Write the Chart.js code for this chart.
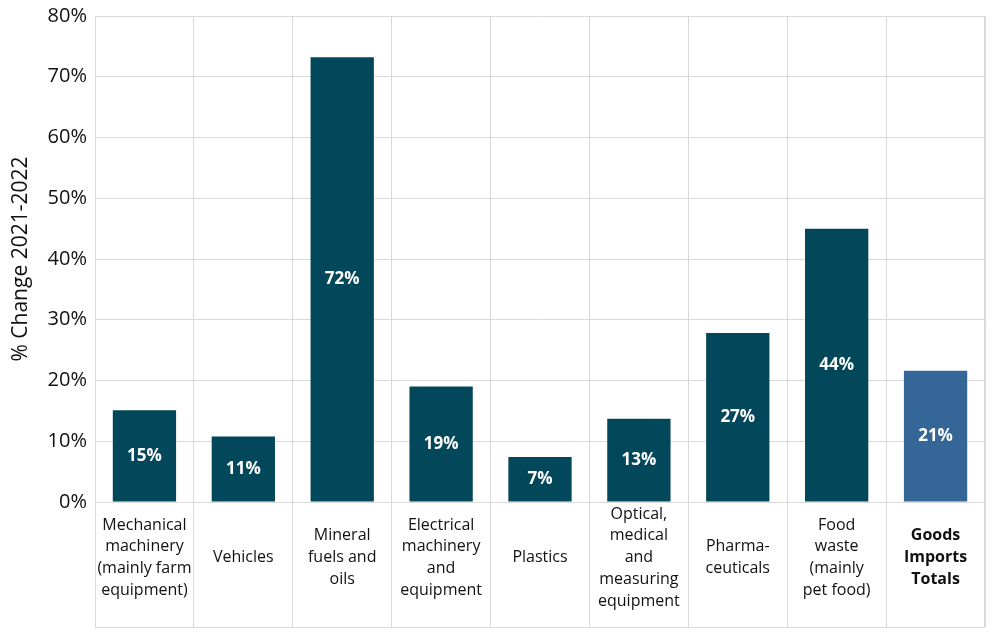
<!DOCTYPE html>
<html>
<head>
<meta charset="utf-8">
<script src="https://cdn.jsdelivr.net/npm/chart.js@4.4.1/dist/chart.umd.min.js"></script>
<style>
  html, body { margin: 0; padding: 0; background: #fff; }
  #wrap { width: 1000px; height: 636px; }
</style>
</head>
<body>
<div id="wrap"><canvas id="chart"></canvas></div>
<script>
// categories (multi-line labels as in the picture)
const categories = [
    ["Mechanical", "machinery", "(mainly farm", "equipment)"],
    ["Vehicles"],
    ["Mineral", "fuels and", "oils"],
    ["Electrical", "machinery", "and", "equipment"],
    ["Plastics"],
    ["Optical,", "medical", "and", "measuring", "equipment"],
    ["Pharma-", "ceuticals"],
    ["Food", "waste", "(mainly", "pet food)"],
    ["Goods", "Imports", "Totals"]
]

// % change 2021-2022
const changeValues = [15.1, 10.8, 73.2, 19.0, 7.4, 13.7, 27.8, 45.0, 21.6]
// labels printed on the bars
const valueLabels = ["15%", "11%", "72%", "19%", "7%", "13%", "27%", "44%", "21%"]
const yTicks = [0, 10, 20, 30, 40, 50, 60, 70, 80]

const barColors = changeValues.map((v, i) => i == categories.length - 1 ? '#356698' : '#03475a')

const fontFamily = "'Open Sans', 'Noto Sans', sans-serif"
const gridColor = '#d9d9d9'
const labelDepth = 125   // how far the category cells reach below the axis

// white value labels in the middle of each bar
const barLabelPlugin = {
    id: 'barLabels',
    afterDatasetsDraw(chart) {
        let ctx = chart.ctx
        let meta = chart.getDatasetMeta(0)
        ctx.save()
        ctx.fillStyle = '#ffffff'
        ctx.font = "bold 17px " + fontFamily
        ctx.textAlign = 'center'
        ctx.textBaseline = 'middle'
        meta.data.forEach((bar, i) => {
            let mid = (bar.y + bar.base) / 2
            ctx.fillText(valueLabels[i], bar.x, mid)
        })
        ctx.restore()
    }
}

// closes the category table: bottom line and right edge
const tableFramePlugin = {
    id: 'tableFrame',
    afterDraw(chart) {
        let ctx = chart.ctx
        let area = chart.chartArea
        let bottom = area.bottom + labelDepth
        ctx.save()
        ctx.strokeStyle = gridColor
        ctx.lineWidth = 1
        ctx.beginPath()
        ctx.moveTo(area.left, bottom + 0.5)
        ctx.lineTo(area.right, bottom + 0.5)
        ctx.moveTo(area.right - 0.5, area.top)
        ctx.lineTo(area.right - 0.5, bottom)
        ctx.stroke()
        ctx.restore()
    }
}

const ctx = document.getElementById('chart')

const chart = new Chart(ctx, {
    type: 'bar',
    data: {
        labels: categories,
        datasets: [{
            data: changeValues,
            backgroundColor: barColors,
            categoryPercentage: 1.0,
            barPercentage: 0.64
        }]
    },
    options: {
        responsive: true,
        maintainAspectRatio: false,
        animation: false,
        layout: { padding: { top: 10, right: 15, left: 0, bottom: 0 } },
        scales: {
            x: {
                grid: {
                    offset: true,
                    color: gridColor,
                    lineWidth: 1,
                    tickLength: labelDepth,
                    tickColor: gridColor
                },
                border: { display: true, color: gridColor },
                ticks: {
                    maxRotation: 0,
                    autoSkip: false,
                    crossAlign: 'center',
                    padding: -113,
                    color: '#111111',
                    font: function (context) {
                        let bold = context.index == categories.length - 1
                        return { family: fontFamily, size: 16, weight: bold ? 'bold' : 'normal', lineHeight: 1.37 }
                    }
                },
                afterFit: function (scale) { scale.height = 134 }
            },
            y: {
                min: 0,
                max: 80,
                afterBuildTicks: function (scale) {
                    scale.ticks = yTicks.map(v => ({ value: v }))
                },
                grid: { color: gridColor, lineWidth: 1, drawTicks: false },
                border: { display: true, color: gridColor },
                ticks: {
                    padding: 8,
                    color: '#111111',
                    font: { family: fontFamily, size: 20, lineHeight: 0.8 },
                    callback: function (value) { return value + '%' }
                },
                title: {
                    display: true,
                    text: '% Change 2021-2022',
                    color: '#111111',
                    font: { family: fontFamily, size: 21 },
                    padding: { top: 8, bottom: 4 }
                },
                afterFit: function (scale) { scale.width = 95 }
            }
        },
        plugins: {
            legend: { display: false },
            tooltip: { enabled: false }
        }
    },
    plugins: [barLabelPlugin, tableFramePlugin]
})
</script>
</body>
</html>
